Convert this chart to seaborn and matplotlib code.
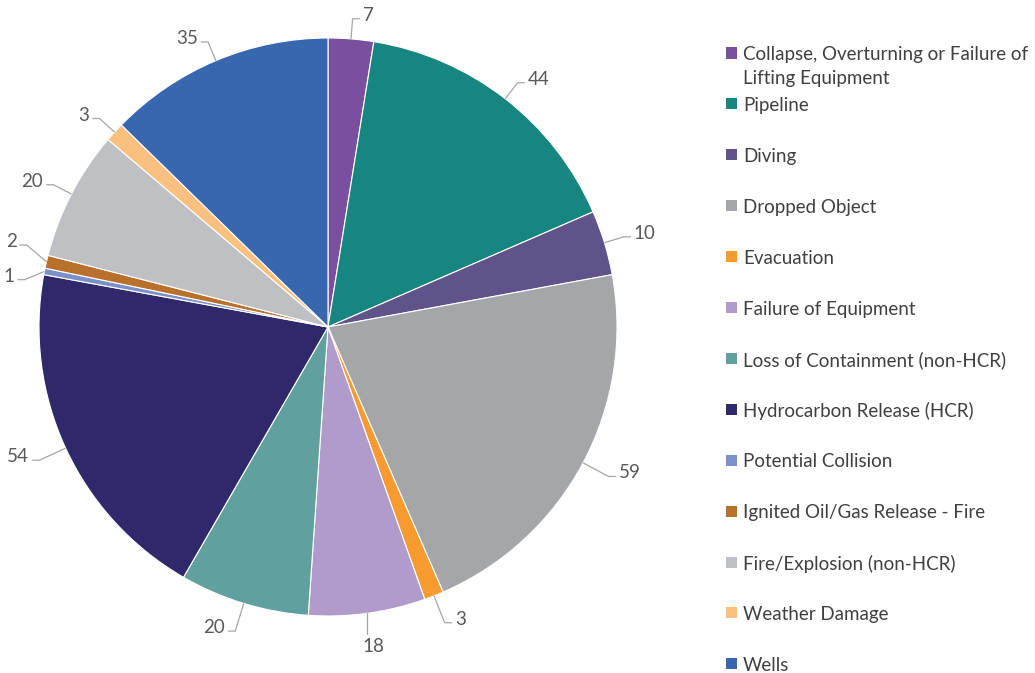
import numpy as np
import matplotlib
matplotlib.use("Agg")
import matplotlib.pyplot as plt
from matplotlib.patches import Rectangle
import seaborn as sns

# Incident categories and counts
categories = [
    "Collapse, Overturning or Failure of\nLifting Equipment",
    "Pipeline",
    "Diving",
    "Dropped Object",
    "Evacuation",
    "Failure of Equipment",
    "Loss of Containment (non-HCR)",
    "Hydrocarbon Release (HCR)",
    "Potential Collision",
    "Ignited Oil/Gas Release - Fire",
    "Fire/Explosion (non-HCR)",
    "Weather Damage",
    "Wells",
]
counts = [7, 44, 10, 59, 3, 18, 20, 54, 1, 2, 20, 3, 35]
colors = [
    "#7B4FA0", "#178580", "#5F5389", "#A5A6A9", "#F79A2F", "#B19BCB",
    "#60A09E", "#2F286B", "#7B8FC9", "#B8702A", "#BFC0C3", "#F9C080",
    "#3867B0",
]

sns.set_theme(style="white")
plt.rcParams["font.family"] = ["Lato", "DejaVu Sans"]

W, H = 1035, 673
fig = plt.figure(figsize=(W / 100, H / 100), dpi=100)

# pie centred at (328, 327) px with radius 289 px
cx, cy, r = 328, 327, 289
ax = fig.add_axes([(cx - r) / W, (H - cy - r) / H, 2 * r / W, 2 * r / H])
palette = sns.color_palette(colors)
wedges, _ = ax.pie(
    counts, colors=palette, startangle=90, counterclock=False,
    wedgeprops=dict(edgecolor="white", linewidth=0.8), radius=1.0,
)
ax.set_xlim(-1, 1)
ax.set_ylim(-1, 1)
ax.set_aspect("equal")
ax.axis("off")

# value labels with leader lines
label_color = "#595959"
line_color = "#A6A6A6"
total = sum(counts)
cum = np.cumsum([0] + counts[:-1])
mids = 90 - (cum + np.array(counts) / 2) / total * 360
rad = np.deg2rad(mids)
side = np.where(np.cos(rad) >= 0, 1, -1)
ly = 1.07 * np.sin(rad)
ly = np.where(np.sin(rad) < -0.3, 1.1 * np.sin(rad), ly)

# spread out labels that sit too close together on the same side
min_gap = 0.12
for s in (1, -1):
    idx = [i for i in range(len(counts)) if side[i] == s]
    idx.sort(key=lambda i: ly[i])
    for _ in range(50):
        moved = False
        for a, b in zip(idx[:-1], idx[1:]):
            if ly[b] - ly[a] < min_gap and abs(np.cos(rad[a])) > 0.6:
                m = (ly[a] + ly[b]) / 2
                ly[a], ly[b] = m - min_gap / 2, m + min_gap / 2
                moved = True
        if not moved:
            break

for i, v in enumerate(counts):
    ex, ey = np.cos(rad[i]), np.sin(rad[i])
    if ey < -0.98:
        # label straight below the slice
        ax.plot([ex, ex], [ey, ey - 0.07], color=line_color, lw=0.9,
                clip_on=False)
        ax.text(ex + 0.02, ey - 0.085, str(v), ha="center", va="top",
                fontsize=13.5, color=label_color, clip_on=False)
        continue
    px = (1.07 if ey > -0.3 else 1.1) * ex
    py = ly[i]
    hx = px + side[i] * 0.025
    ax.plot([ex, px, hx], [ey, py, py], color=line_color, lw=0.9,
            clip_on=False, solid_capstyle="butt")
    ax.text(hx + side[i] * 0.01, py + 0.012, str(v),
            ha="left" if side[i] > 0 else "right",
            va="center", fontsize=13.5, color=label_color, clip_on=False)

# legend
sq = 11
tx = 743
for i, (lab, col) in enumerate(zip(categories, colors)):
    yc = 53 + i * 50.9
    fig.patches.append(Rectangle((726 / W, (H - yc - sq / 2) / H), sq / W, sq / H,
                                 transform=fig.transFigure, facecolor=col,
                                 edgecolor="none"))
    for k, line in enumerate(lab.split("\n")):
        fig.text(tx / W, (H - yc - k * 24) / H, line, ha="left",
                 va="center_baseline", fontsize=13.5, color="#404040")

fig.savefig("out.png", dpi=100, facecolor="white")
